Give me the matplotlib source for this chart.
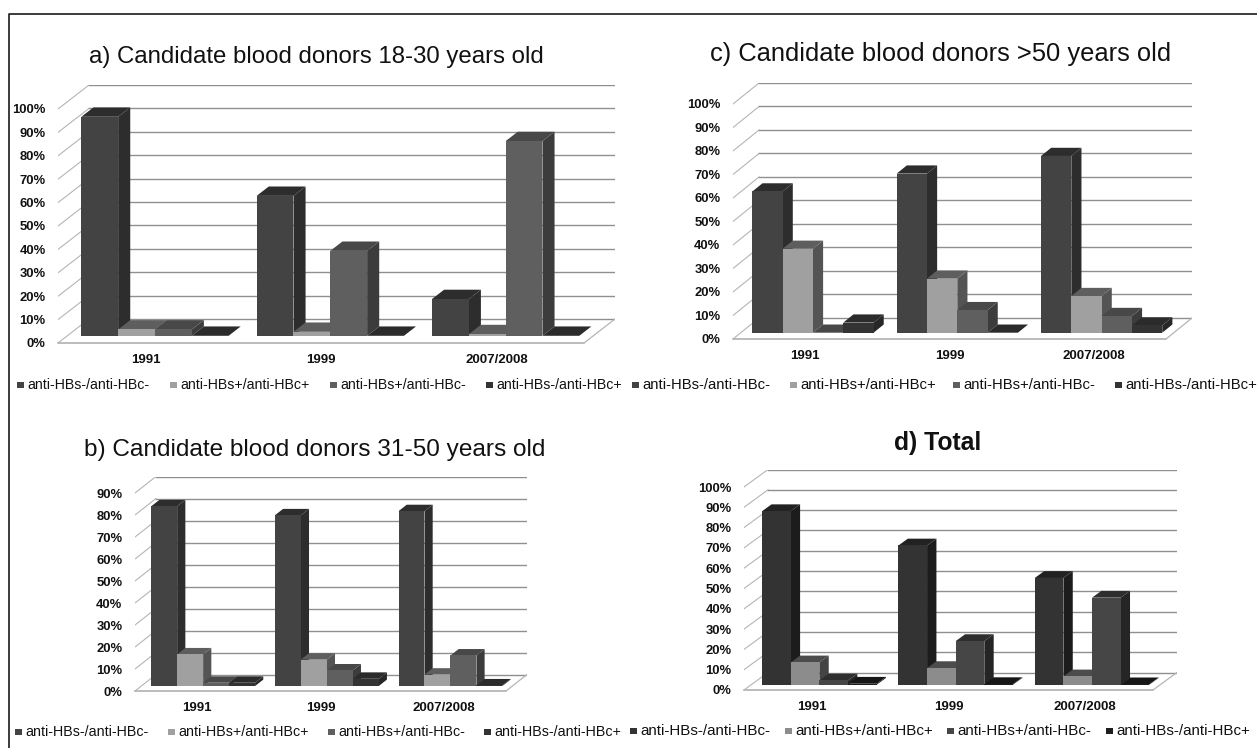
import matplotlib
matplotlib.use('Agg')
import matplotlib.pyplot as plt
from matplotlib.patches import Polygon, Rectangle

plt.rcParams['font.family'] = ['Liberation Sans', 'DejaVu Sans']

years = ['1991', '1999', '2007/2008']
series = ['anti-HBs-/anti-HBc-', 'anti-HBs+/anti-HBc+', 'anti-HBs+/anti-HBc-', 'anti-HBs-/anti-HBc+']

# percentages, one list per year, same order as series
age_18_30 = [[93.6, 2.7, 2.7, 0.0], [59.8, 1.7, 36.3, 0.0], [15.7, 0.7, 83.2, 0.0]]
age_31_50 = [[81.7, 14.4, 1.5, 1.5], [77.6, 12.0, 7.1, 3.3], [79.5, 5.2, 13.9, 0.3]]
age_over_50 = [[60.1, 35.7, 0.0, 4.3], [67.7, 23.0, 9.6, 0.0], [75.2, 15.6, 7.1, 3.1]]
total = [[85.5, 11.0, 2.1, 0.5], [68.6, 8.2, 21.5, 0.3], [52.6, 4.1, 42.9, 0.2]]

W, H = 1257, 748

# front, side and top colours of each series
shades_grey = [('#434343', '#2d2d2d', '#2d2d2d'), ('#a0a0a0', '#545454', '#5e5e5e'),
               ('#5f5f5f', '#3c3c3c', '#484848'), ('#333333', '#272727', '#2b2b2b')]
shades_dark = [('#333333', '#1c1c1c', '#222222'), ('#8c8c8c', '#444444', '#4c4c4c'),
               ('#464646', '#252525', '#2e2e2e'), ('#1e1e1e', '#141414', '#161616')]

# x0, x1: front floor edge, y0, ytop: front 0% and top level, dx, dy: floor depth (all px)
panels = [
    dict(title='a) Candidate blood donors 18-30 years old', data=age_18_30, top=100, x0=58, x1=584, y0=343, ytop=109,
         dx=31, dy=24, shades=shades_grey, tx=316, ty=56.5, title_size=17.3, title_weight='normal',
         leg_y=385, leg_x=[17, 170, 330, 486], leg_size=10.2),
    dict(title='c) Candidate blood donors >50 years old', data=age_over_50, top=100, x0=733, x1=1166, y0=339, ytop=104,
         dx=26, dy=21, shades=shades_grey, tx=941, ty=53.5, title_size=18.4, title_weight='normal',
         leg_y=385, leg_x=[632, 790, 953, 1115], leg_size=10.7),
    dict(title='b) Candidate blood donors 31-50 years old', data=age_31_50, top=90, x0=135, x1=506, y0=691, ytop=493,
         dx=21, dy=16.5, shades=shades_grey, tx=315, ty=449.5, title_size=17.6, title_weight='normal',
         leg_y=732, leg_x=[15, 168, 328, 484], leg_size=10.3),
    dict(title='d) Total', data=total, top=100, x0=744, x1=1153, y0=690, ytop=487,
         dx=24, dy=17.5, shades=shades_dark, tx=938, ty=443, title_size=17.8, title_weight='bold',
         leg_y=731, leg_x=[630, 785, 947, 1106], leg_size=10.9),
]

fig = plt.figure(figsize=(W / 100, H / 100), dpi=100, facecolor='white')

# full-figure axes in pixels for frame, titles and legends
bg = fig.add_axes([0, 0, 1, 1])
bg.set_xlim(0, W)
bg.set_ylim(H, 0)
bg.axis('off')
bg.plot([9, 9, W], [H, 13.5, 13.5], color='#1a1a1a', lw=1.2)


def draw_panel(p):
    back_x = p['x1'] + p['dx']
    back_y = p['ytop'] - p['dy']
    ax = fig.add_axes([p['x0'] / W, 1 - p['y0'] / H, (back_x - p['x0']) / W, (p['y0'] - back_y) / H])
    ax.patch.set_alpha(0)
    for s in ax.spines.values():
        s.set_visible(False)

    # depth expressed in data units
    px_x = 3 / (p['x1'] - p['x0'])
    px_y = p['top'] / (p['y0'] - p['ytop'])
    ddx = p['dx'] * px_x
    ddy = p['dy'] * px_y
    ax.set_xlim(0, 3 + ddx)
    ax.set_ylim(0, p['top'] + ddy)

    # walls and floor
    ticks = list(range(0, p['top'] + 10, 10))
    grid = '#8f8f8f'
    for t in ticks:
        ax.plot([0, ddx], [t, t + ddy], color='#b5b5b5', lw=0.8, zorder=1)
        ax.plot([ddx, 3 + ddx], [t + ddy, t + ddy], color=grid, lw=1.0, zorder=1)
    ax.plot([0, 3], [0, 0], color='#b0b0b0', lw=1.2, zorder=1, clip_on=False)
    ax.plot([3, 3 + ddx], [0, ddy], color='#b5b5b5', lw=0.9, zorder=1)

    # 3d looking columns: four per year, base sits 30% into the floor
    bar_w = 0.21
    zb = 0.30
    zd = 0.39
    for g, row in enumerate(p['data']):
        left = g + 0.5 - 2 * bar_w
        for i, v in enumerate(row):
            front, side, top = p['shades'][i]
            xa = left + i * bar_w + zb * ddx
            xb = xa + bar_w
            yb = zb * ddy
            ex, ey = zd * ddx, zd * ddy
            z = 3 + i * 0.01
            ax.add_patch(Polygon([(xb, yb), (xb + ex, yb + ey), (xb + ex, yb + ey + v), (xb, yb + v)],
                                 fc=side, ec='none', zorder=z))
            ax.add_patch(Polygon([(xa, yb + v), (xb, yb + v), (xb + ex, yb + v + ey), (xa + ex, yb + v + ey)],
                                 fc=top, ec='none', zorder=z))
            ax.add_patch(Rectangle((xa, yb), bar_w, v, fc=front, ec='none', zorder=z))

    ax.set_xticks([0.5, 1.5, 2.5])
    ax.set_xticklabels(years, fontsize=9.5, fontweight='bold', color='#111111')
    ax.set_yticks(ticks)
    ax.set_yticklabels([f'{t}%' for t in ticks], fontsize=9.4, fontweight='bold', color='#111111')
    ax.tick_params(axis='both', length=0)
    ax.tick_params(axis='x', pad=8)
    ax.tick_params(axis='y', pad=9)

    bg.text(p['tx'], p['ty'], p['title'], ha='center', va='center', color='#111111',
            fontsize=p['title_size'], fontweight=p['title_weight'])

    # legend row
    for i, name in enumerate(series):
        mx = p['leg_x'][i]
        bg.add_patch(Rectangle((mx, p['leg_y'] - 3), 6.5, 6, fc=p['shades'][i][0], ec='none'))
        bg.text(mx + 10, p['leg_y'], name, ha='left', va='center', fontsize=p['leg_size'], color='#111111')


for p in panels:
    draw_panel(p)

fig.savefig('out.png', dpi=100)
